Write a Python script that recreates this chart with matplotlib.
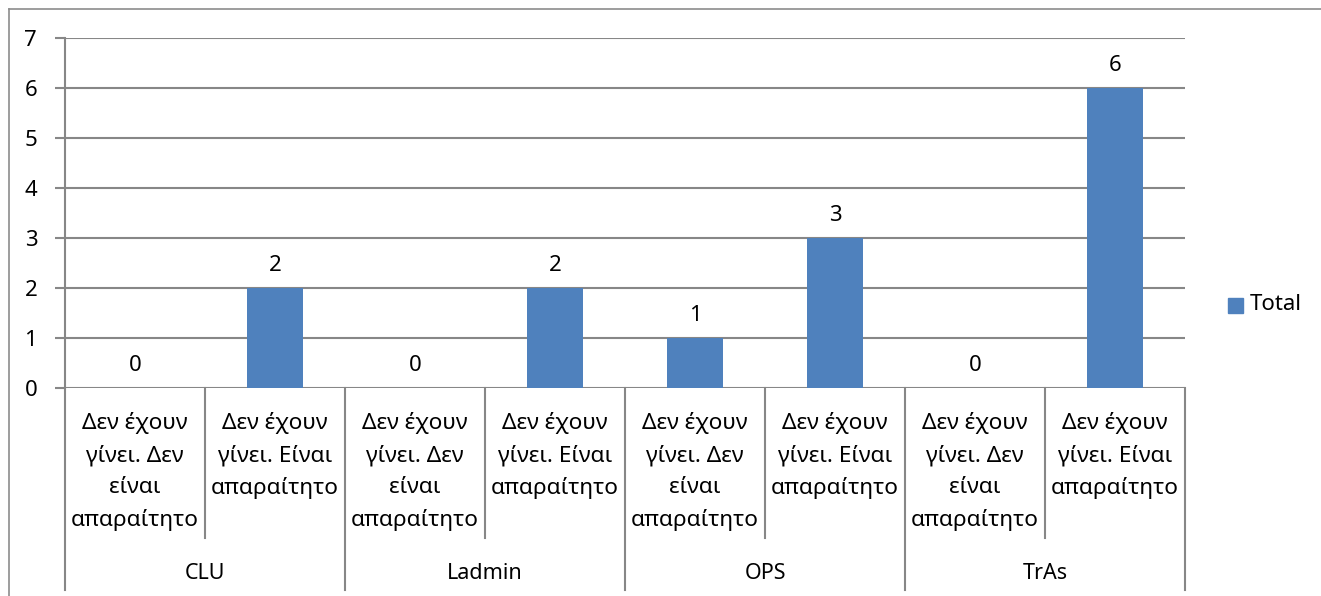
import numpy as np
import matplotlib.pyplot as plt
from matplotlib.patches import Rectangle
from matplotlib.lines import Line2D

plt.rcParams['font.family'] = ['Noto Sans', 'DejaVu Sans']

# data
groups = ["CLU", "Ladmin", "OPS", "TrAs"]
answers = ["Δεν έχουν\nγίνει. Δεν\nείναι\nαπαραίτητο",
           "Δεν έχουν\nγίνει. Είναι\nαπαραίτητο"]
totals = [0, 2, 0, 2, 1, 3, 0, 6]

bar_color = "#4F81BD"
line_color = "#878787"

W, H = 1321, 596
fig = plt.figure(figsize=(W / 100, H / 100), dpi=100)

# outer chart frame
fig.add_artist(Line2D([9 / W, 9 / W], [0, 1 - 9 / H], color="#8c8c8c", lw=1.2))
fig.add_artist(Line2D([9 / W, 1], [1 - 9 / H, 1 - 9 / H], color="#8c8c8c", lw=1.2))

ax = fig.add_axes([65 / W, (H - 388) / H, 1120 / W, 350 / H])

n = len(totals)
x = np.arange(n) + 0.5
ax.bar(x, totals, width=0.4, color=bar_color, zorder=3)
ax.set_xlim(0, n)
ax.set_ylim(0, 7)
ax.set_yticks(range(8))
ax.yaxis.grid(True, color=line_color, lw=1.5, zorder=1)
ax.tick_params(axis='y', length=7, width=1.5, color=line_color, labelsize=16, pad=13)
ax.set_xticks([])
for s in ["top", "right", "bottom"]:
    ax.spines[s].set_visible(False)
ax.spines["left"].set_color(line_color)
ax.spines["left"].set_linewidth(1.5)

# value labels
for xi, v in zip(x, totals):
    ax.annotate(str(v), (xi, v), xytext=(0, 12.5), textcoords="offset points",
                ha="center", va="baseline", fontsize=16)

# two-level category axis
tr = ax.get_xaxis_transform()
for i in range(n + 1):
    y_end = -0.577 if i % 2 == 0 else -0.429
    ax.plot([i, i], [0, y_end], transform=tr, color=line_color, lw=1.5, clip_on=False)
for i in range(n):
    ax.text(i + 0.5, -0.068, answers[i % 2], transform=tr, ha="center", va="top",
            fontsize=16.3, linespacing=1.66)
for g, name in enumerate(groups):
    ax.text(2 * g + 1, -0.53, name, transform=tr, ha="center", va="center", fontsize=15.5)

# legend
fig.add_artist(Rectangle((1228 / W, 1 - 313 / H), 15 / W, 15 / H, color=bar_color,
                         transform=fig.transFigure))
fig.text(1250 / W, 1 - 305 / H, "Total", ha="left", va="center", fontsize=16)

fig.savefig("out.png", dpi=100)
